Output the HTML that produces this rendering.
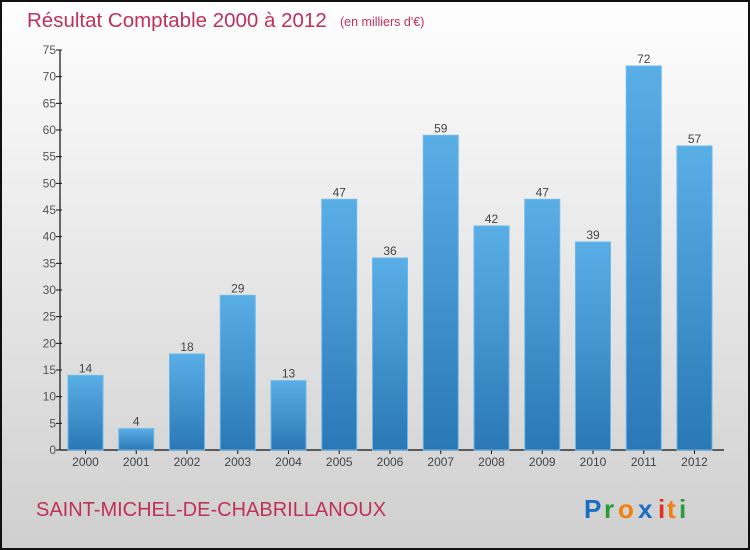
<!DOCTYPE html>
<html><head><meta charset="utf-8"><style>
body{margin:0;}
#c{width:750px;height:550px;position:relative;box-sizing:border-box;border:2px solid #111;background:linear-gradient(#fefefe,#cfcfcf);font-family:"Liberation Sans",sans-serif;overflow:hidden}
</style></head><body>
<div id="c">
<svg width="746" height="546" style="position:absolute;left:0;top:0" id="s">
<defs><linearGradient id="g" x1="0" y1="0" x2="0" y2="1"><stop offset="0" stop-color="#5aaee6"/><stop offset="1" stop-color="#2a78b6"/></linearGradient></defs>
<text x="25" y="25" font-size="20.5" fill="#c0305a">Résultat Comptable 2000 à 2012</text>
<text x="338" y="24" font-size="12.5" fill="#c0305a">(en milliers d'€)</text>
<text x="34" y="514" font-size="20" fill="#c0305a">SAINT-MICHEL-DE-CHABRILLANOUX</text>
<g font-size="26" font-weight="bold" font-family="'Liberation Sans',sans-serif">
<text x="582" y="516" fill="#1a6fc4">P</text><text x="602" y="516" fill="#2a9a3a">r</text><text x="616" y="516" fill="#f08010">o</text><text x="636" y="516" fill="#1a6fc4">x</text><text x="656" y="516" fill="#e03020">i</text><text x="665" y="516" fill="#f08010">t</text><text x="677" y="516" fill="#2a9a3a">i</text></g>
<g id="ax"></g><g id="bars"></g>
</svg></div>
<script>
const categories=["2000","2001","2002","2003","2004","2005","2006","2007","2008","2009","2010","2011","2012"];
const values=[14,4,18,29,13,47,36,59,42,47,39,72,57];
const yTicks=[0,5,10,15,20,25,30,35,40,45,50,55,60,65,70,75];
const NS="http://www.w3.org/2000/svg";
const ox=-2,oy=-2;
const y0=450+oy,yTop=50+oy,yMax=75;
const yS=v=>y0-(v/yMax)*(y0-yTop);
const xS=i=>68+ox+i*50.75;
const bw=35;
function mk(t,a){const e=document.createElementNS(NS,t);for(const k in a)e.setAttribute(k,a[k]);return e;}
const ax=document.getElementById('ax'),bars=document.getElementById('bars');
let l=mk('line',{x1:60+ox,y1:yTop,x2:60+ox,y2:y0,stroke:'#111','stroke-width':1.2});


ax.appendChild(l);
l=mk('line',{x1:60+ox,y1:y0,x2:724+ox,y2:y0,stroke:'#111','stroke-width':1.2});


ax.appendChild(l);
yTicks.forEach(v=>{
 const y=yS(v);
 const t=mk('line',{x1:56+ox,y1:y,x2:62+ox,y2:y,stroke:'#111'});
 
 
 ax.appendChild(t);
 const tx=mk('text',{x:56+ox,y:y+4,'text-anchor':'end','font-size':12,fill:'#555'});
 tx.textContent=v;
 
 
 ax.appendChild(tx);
});
categories.forEach((c,i)=>{
 const x=xS(i),v=values[i],y=yS(v);
 const r=mk('rect',{x:x,y:y,width:bw,height:y0-y,fill:'url(#g)',stroke:'#6ab8ee','stroke-width':1});
 
 
 bars.appendChild(r);
 const vt=mk('text',{x:x+bw/2,y:y-3,'text-anchor':'middle','font-size':12,fill:'#444'});
 vt.textContent=v;
 
 
 bars.appendChild(vt);
 const tk=mk('line',{x1:x+bw/2,y1:y0,x2:x+bw/2,y2:y0+4,stroke:'#111'});
 
 
 ax.appendChild(tk);
 const xt=mk('text',{x:x+bw/2,y:y0+16,'text-anchor':'middle','font-size':12,fill:'#444'});
 xt.textContent=c;
 
 
 ax.appendChild(xt);
});
</script>
</body></html>
